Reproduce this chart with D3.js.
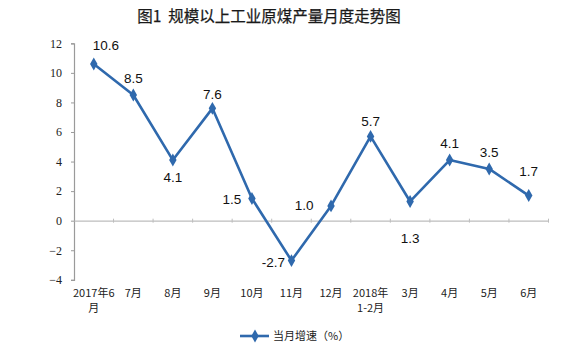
<!DOCTYPE html>
<html>
<head>
<meta charset="utf-8">
<script src="https://cdn.jsdelivr.net/npm/d3@7"></script>
<style>
  body { margin: 0; background: #fff; }
  svg { display: block; }
</style>
</head>
<body>
<div id="chart"></div>
<script>
// monthly growth of raw coal output
const months = ["2017年6月", "7月", "8月", "9月", "10月", "11月", "12月", "2018年1-2月", "3月", "4月", "5月", "6月"];
const monthLines = [["2017年6", "月"], ["7月"], ["8月"], ["9月"], ["10月"], ["11月"], ["12月"], ["2018年", "1-2月"], ["3月"], ["4月"], ["5月"], ["6月"]];
const growth = [10.6, 8.5, 4.1, 7.6, 1.5, -2.7, 1.0, 5.7, 1.3, 4.1, 3.5, 1.7];
const yTicks = [-4, -2, 0, 2, 4, 6, 8, 10, 12];
// where each value label sits relative to its point
const labelOffsets = [[12, -19], [0, -17], [0, 17], [0, -14], [-20, 1], [-18, 2], [-27, -1], [0, -15], [0, 37], [0, -17], [0, -17], [0, -24]];

const W = 570, H = 352;
const color = "#2f69ad";

const svg = d3.select("#chart").append("svg")
    .attr("width", W)
    .attr("height", H);

const x = d3.scaleBand().domain(months).range([74, 548.5]);
const y = d3.scaleLinear().domain([-4, 12]).range([279.8, 43.3]);

// title
svg.append("text")
    .attr("x", 269)
    .attr("y", 22)
    .attr("text-anchor", "middle")
    .style("white-space", "pre")
    .style("font-family", "'Noto Sans CJK SC'")
    .style("font-size", "15.5px")
    .attr("fill", "#1a1a1a")
    .attr("stroke", "#1a1a1a")
    .attr("stroke-width", 0.25)
    .text("图1  规模以上工业原煤产量月度走势图");

// y axis
const yAxis = svg.append("g")
    .attr("transform", `translate(${x.range()[0]},0)`)
    .call(d3.axisLeft(y).tickValues(yTicks).tickSize(3).tickPadding(9));
yAxis.select(".domain").attr("stroke", "#9a9a9a").attr("stroke-width", 1.2);
yAxis.selectAll(".tick line").attr("stroke", "#9a9a9a");
yAxis.selectAll(".tick text")
    .style("font-family", "'Liberation Serif', serif")
    .style("font-size", "12px")
    .attr("fill", "#222");

// zero line with category ticks
const xAxis = svg.append("g")
    .attr("transform", `translate(0,${y(0)})`)
    .call(d3.axisBottom(x).tickSize(0).tickFormat(""));
xAxis.select(".domain").attr("stroke", "#bdbdbd").attr("stroke-width", 1.2);
xAxis.selectAll(".sep")
    .data(months)
    .enter().append("line")
    .attr("x1", d => x(d) + x.bandwidth())
    .attr("x2", d => x(d) + x.bandwidth())
    .attr("y1", -2)
    .attr("y2", 2)
    .attr("stroke", "#bdbdbd");

// category labels below the plot
const catG = svg.append("g")
    .style("font-family", "'Noto Sans CJK SC'")
    .style("font-size", "11px")
    .attr("fill", "#222");
monthLines.forEach((lines, i) => {
    const cx = x(months[i]) + x.bandwidth() / 2;
    const t = catG.append("text")
        .attr("x", cx)
        .attr("y", 297)
        .attr("text-anchor", "middle");
    lines.forEach((ln, j) => {
        t.append("tspan")
            .attr("x", cx)
            .attr("dy", j === 0 ? 0 : 15)
            .text(ln);
    });
});

// line
const line = d3.line()
    .x((d, i) => x(months[i]) + x.bandwidth() / 2)
    .y(d => y(d));

svg.append("path")
    .datum(growth)
    .attr("fill", "none")
    .attr("stroke", color)
    .attr("stroke-width", 2.6)
    .attr("stroke-linejoin", "round")
    .attr("d", line);

const diamond = d3.symbol().type(d3.symbolDiamond).size(48);

svg.selectAll(".pt")
    .data(growth)
    .enter().append("path")
    .attr("class", "pt")
    .attr("transform", (d, i) => `translate(${x(months[i]) + x.bandwidth() / 2},${y(d)})`)
    .attr("d", diamond)
    .attr("fill", color);

// value labels
svg.selectAll(".val")
    .data(growth)
    .enter().append("text")
    .attr("class", "val")
    .attr("x", (d, i) => x(months[i]) + x.bandwidth() / 2 + labelOffsets[i][0])
    .attr("y", (d, i) => y(d) + labelOffsets[i][1])
    .attr("dy", "0.35em")
    .attr("text-anchor", "middle")
    .style("font-family", "'Liberation Sans'")
    .style("font-size", "13.5px")
    .attr("fill", "#111")
    .text(d => d.toFixed(1));

// legend
const lg = svg.append("g").attr("transform", "translate(240,336)");
lg.append("line")
    .attr("x1", 0).attr("x2", 29)
    .attr("stroke", color)
    .attr("stroke-width", 2.6);
lg.append("path")
    .attr("transform", "translate(15,0)")
    .attr("d", diamond)
    .attr("fill", color);
lg.append("text")
    .attr("x", 33)
    .attr("dy", "0.35em")
    .style("font-family", "'Noto Sans CJK SC'")
    .style("font-size", "11px")
    .attr("fill", "#222")
    .text("当月增速（%）");
</script>
</body>
</html>
